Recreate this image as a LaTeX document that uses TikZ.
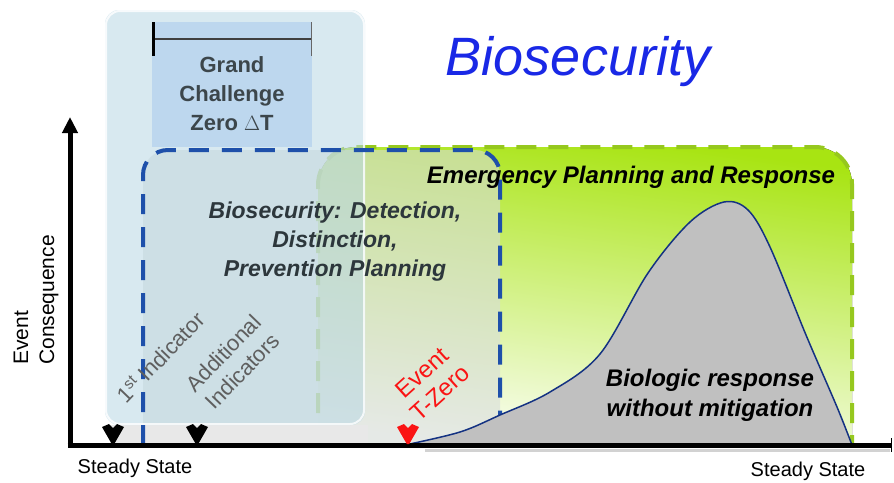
\documentclass[tikz,border=0pt]{standalone}
\usepackage{fontspec}
\setmainfont{Liberation Sans}
\usetikzlibrary{arrows.meta}
\definecolor{grTop}{RGB}{168,228,18}
\definecolor{grMid}{RGB}{218,244,160}
\definecolor{grBot}{RGB}{252,254,248}
\definecolor{grDash}{RGB}{150,200,30}
\definecolor{bxDash}{RGB}{30,80,170}
\definecolor{bxFill}{RGB}{215,220,218}
\definecolor{glass}{RGB}{185,215,228}
\definecolor{gcFill}{RGB}{189,215,238}
\definecolor{gcText}{RGB}{60,70,75}
\definecolor{bsText}{RGB}{45,55,60}
\definecolor{titleBlue}{RGB}{25,40,230}
\definecolor{hump}{RGB}{192,192,192}
\definecolor{humpLine}{RGB}{20,50,130}
\definecolor{indText}{RGB}{95,95,95}
\definecolor{evRed}{RGB}{250,20,20}
\begin{document}
\begin{tikzpicture}[x=1pt,y=-1pt,
  bigit/.style={font=\fontsize{24}{30}\selectfont\bfseries\itshape, align=center, inner sep=0pt},
  plain/.style={font=\fontsize{21}{26}\selectfont, align=center, inner sep=0pt},
  rotlbl/.style={font=\fontsize{22}{26}\selectfont, align=center, inner sep=0pt, rotate=46},
  greendash/.style={draw=grDash, line width=4pt, dash pattern=on 20pt off 12pt},
  bluedash/.style={draw=bxDash, line width=4pt, dash pattern=on 20pt off 13pt},
  vmarker/.pic={\fill (-11,-7) -- (-4,-10) -- (0,-6) -- (4,-10) -- (11,-7) -- (1.2,10) -- (-1.2,10) -- cycle;}
]
\useasboundingbox (0,0) rectangle (894,482);
\fill[white] (0,0) rectangle (894,482);

% green box: Emergency Planning and Response
\fill[top color=grTop, middle color=grMid, bottom color=grBot, shading angle=-8]
  (318,445) -- (318,185) arc(180:270:38) -- (815,147) arc(270:360:37) -- (852,445) -- cycle;
\draw[greendash] (318,445) -- (318,185) arc(180:270:38) -- (815,147) arc(270:360:37) -- (852,445);

% blue dashed box fill
\fill[bxFill, opacity=0.6]
  (143,445) -- (143,175) arc(180:270:25) -- (475,150) arc(270:360:25) -- (500,445) -- cycle;

% glass panel
\fill[gray!18] (110,425) rectangle (368,443);
\fill[glass, opacity=0.55, rounded corners=14pt] (105,10) rectangle (365,425);
\draw[white, line width=2pt, rounded corners=14pt, opacity=0.8] (106,11) rectangle (364,424);

% blue dashed border
\draw[bluedash] (143,445) -- (143,175) arc(180:270:25) -- (475,150) arc(270:360:25) -- (500,445);

% Grand Challenge box
\fill[gcFill] (152,22) rectangle (312,147);
\draw[black!75, line width=2pt] (153,39) -- (311,39);
\draw[black, line width=3pt] (153.5,22) -- (153.5,56);
\draw[black!60, line width=1pt] (311.5,22) -- (311.5,56);
\node[font=\fontsize{22}{29}\selectfont\bfseries, text=gcText, align=center, inner sep=0pt] (gc) at (232,94) {Grand\\Challenge\\Zero $\Delta$T};

% biologic response hump
\fill[hump] plot[smooth, tension=0.55] coordinates {(405,445) (460,432) (500,415) (550,392) (600,354) (648,273) (690,222) (724,202) (748,210) (770,247) (806,335) (837,407) (852,445)} -- cycle;
\draw[humpLine, line width=1.5pt] plot[smooth, tension=0.55] coordinates {(405,445) (460,432) (500,415) (550,392) (600,354) (648,273) (690,222) (724,202) (748,210) (770,247) (806,335) (837,407) (852,445)};

% texts
\node[font=\fontsize{54}{60}\selectfont\itshape, text=titleBlue, inner sep=0pt] (title) at (578,62) {Biosecurity};
\node[bigit, text=black] (epr) at (631,177) {Emergency Planning and Response};
\node[bigit, font=\fontsize{23}{29}\selectfont\bfseries\itshape, text=bsText] (bio) at (335,242) {Biosecurity: Detection,\\Distinction,\\Prevention Planning};
\node[bigit, text=black] (bresp) at (710,395) {Biologic response\\without mitigation};
\node[plain, rotate=90, align=left, anchor=center] (yl) at (36,300) {Event\\Consequence};
\node[font=\fontsize{20}{24}\selectfont, inner sep=0pt] (ssl) at (135,468) {Steady State};
\node[font=\fontsize{20}{24}\selectfont, inner sep=0pt] (ssr) at (808,471) {Steady State};
\node[rotlbl, text=indText] (ind1) at (160,357) {1\textsuperscript{st} Indicator};
\node[rotlbl, text=indText] (ind2) at (233,362) {Additional\\Indicators};
\node[font=\fontsize{24}{27}\selectfont, align=center, inner sep=0pt, rotate=42, text=evRed] (tz) at (431,383) {Event\\T-Zero};

% axes
\coordinate (origin) at (70,445);
\coordinate (ytop) at (70,117);
\coordinate (xend) at (891,445);
\draw[gray!35, line width=3pt] (425,450) -- (890,450);
\draw[line width=5pt, -{Triangle[length=16pt, width=15pt]}] (70,447.5) -- (ytop);
\draw[line width=5pt] (67.5,445) -- (xend);
\draw[line width=1pt] (891,438) -- (891,452);

% markers
\pic[black] at (113,434) {vmarker};
\pic[black] at (197,434) {vmarker};
\pic[evRed] at (408,434) {vmarker};
\end{tikzpicture}
\end{document}
